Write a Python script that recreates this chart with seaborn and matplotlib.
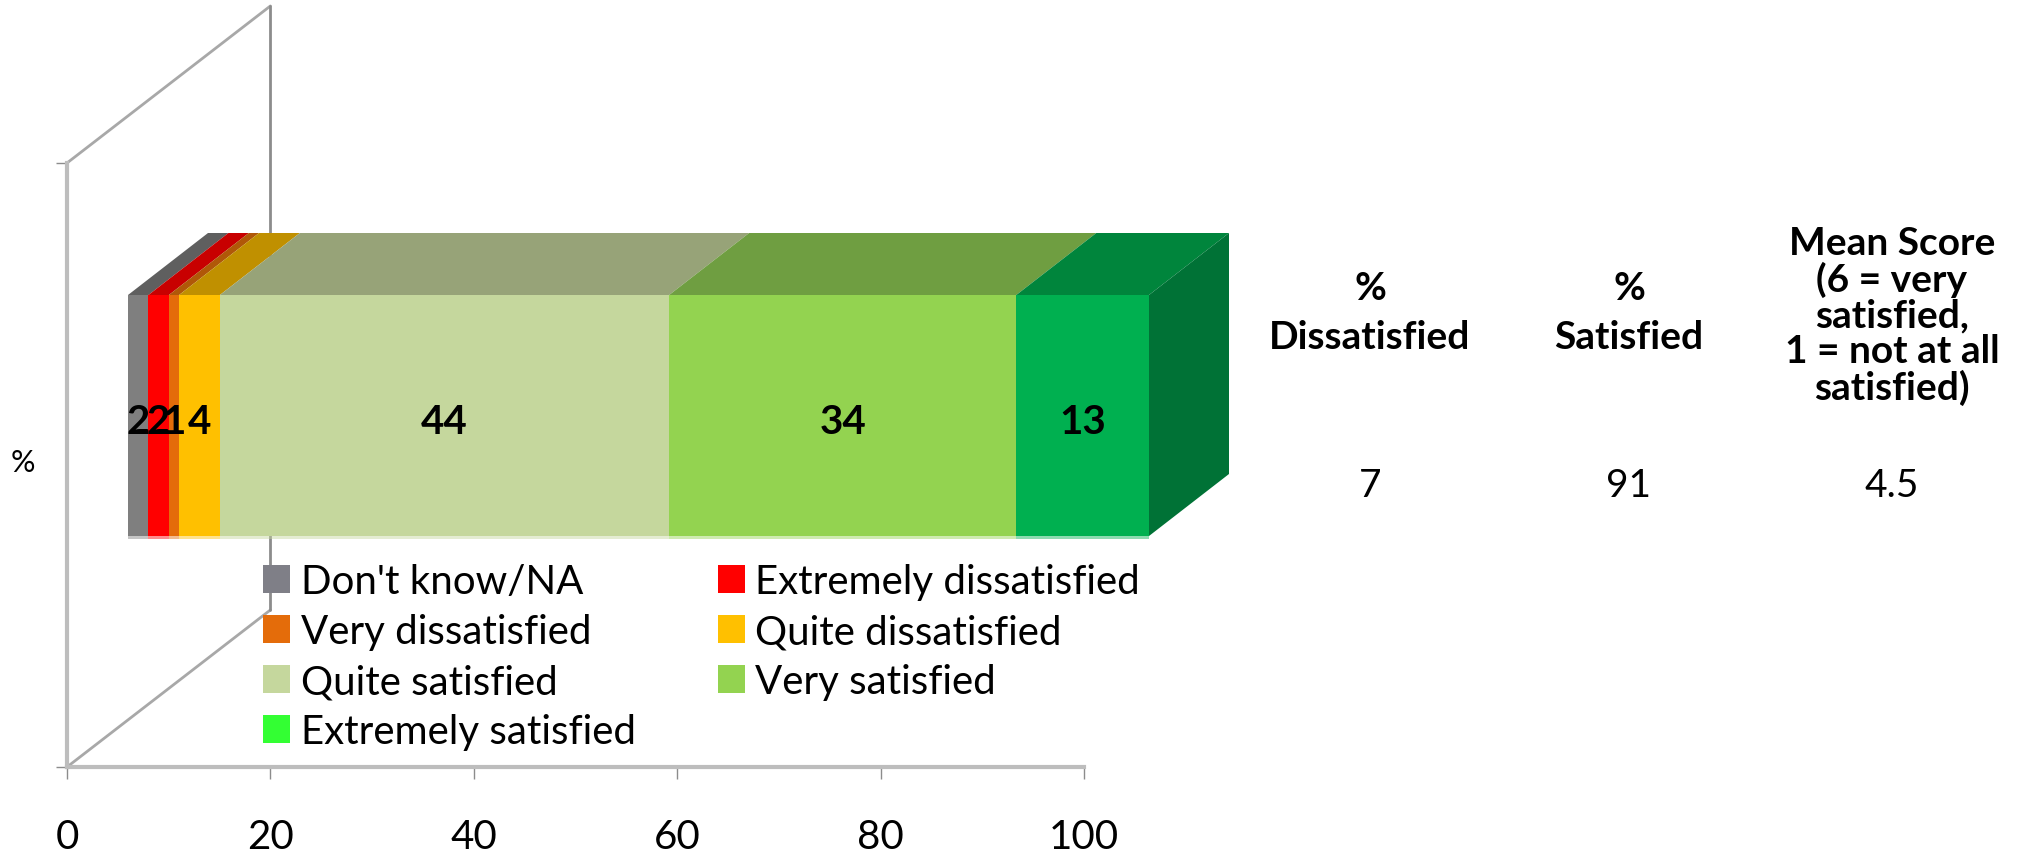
import matplotlib
matplotlib.use("Agg")
import matplotlib.pyplot as plt
from matplotlib.patches import Rectangle
import pandas as pd
import seaborn as sns

categories = ["Don't know/NA", "Extremely dissatisfied", "Very dissatisfied", "Quite dissatisfied",
              "Quite satisfied", "Very satisfied", "Extremely satisfied"]
values = [2, 2, 1, 4, 44, 34, 13]
front_colors = ["#7F7F7F", "#FF0000", "#E46C0A", "#FFC000", "#C5D79D", "#93D350", "#00B050"]
top_colors = ["#5F5F5F", "#C80000", "#B05808", "#C09000", "#97A378", "#6F9E41", "#00853C"]
legend_colors = ["#7F7F87", "#FF0000", "#E46C0A", "#FFC000", "#C5D79D", "#93D350", "#33FF33"]
side_color = "#007236"
axis_ticks = [0, 20, 40, 60, 80, 100]
table_headers = ["%\nDissatisfied", "%\nSatisfied"]
table_wide_header = "Mean Score\n(6 = very\nsatisfied,\n1 = not at all\nsatisfied)"
table_values = ["7", "91", "4.5"]

W, H = 2025, 854
sns.set_theme(style="white")
plt.rcParams["font.family"] = ["Lato", "DejaVu Sans"]
fig = plt.figure(figsize=(W / 100, H / 100), dpi=100, facecolor="white")


def box(x0, y_top, x1, y_bottom):
    return [x0 / W, 1 - y_bottom / H, (x1 - x0) / W, (y_bottom - y_top) / H]


def fx(x):
    return x / W


def fy(y):
    return 1 - y / H


# Axis frame with the receding wall
ax = fig.add_axes(box(67, 164, 1084, 768))
ax.set_xlim(0, 100)
ax.set_ylim(0, 1)
ax.patch.set_visible(False)
for name in ("top", "right"):
    ax.spines[name].set_visible(False)
for name in ("left", "bottom"):
    ax.spines[name].set_color("#BDBDBD")
    ax.spines[name].set_linewidth(3)
ax.set_xticks(axis_ticks)
ax.set_yticks([0, 1])
ax.set_yticklabels([])
ax.tick_params(axis="x", length=8.5, width=1, color="#8C8C8C", labelsize=29, labelcolor="black",
               pad=28, bottom=True)
ax.tick_params(axis="y", length=8, width=1, color="#8C8C8C", left=True)
wall_dx, wall_dy = 20, 0.26
ax.plot([0, wall_dx], [1, 1 + wall_dy], color="#A8A8A8", lw=2, clip_on=False)
ax.plot([0, wall_dx], [0, wall_dy], color="#A8A8A8", lw=2, clip_on=False)
ax.plot([wall_dx, wall_dx], [wall_dy, 1 + wall_dy], color="#8C8C8C", lw=2, clip_on=False)

# Stacked bar: cumulative totals painted from longest to shortest
bar_ax = fig.add_axes(box(128, 296, 1149, 537))
bar_ax.patch.set_visible(False)
cumulative = pd.Series(values).cumsum().tolist()
starts = [0] + cumulative[:-1]
frame = pd.DataFrame({"category": categories, "total": cumulative, "row": "%"})
for i in reversed(range(len(categories))):
    sns.barplot(data=frame.iloc[[i]], x="total", y="row", color=front_colors[i], saturation=1,
                width=1, orient="h", linewidth=0, ax=bar_ax)
bar_ax.set_xlim(0, cumulative[-1])
bar_ax.set_ylim(-0.5, 0.5)
bar_ax.invert_yaxis()
bar_ax.axis("off")

# Extruded faces of the bar
depth_x = 80 / (1021 / 100)
depth_y = 62 / 241
rim = 2.5 / 241
for left, right, top_c, front_c in zip(starts, cumulative, top_colors, front_colors):
    bar_ax.fill([left, right, right + depth_x, left + depth_x],
                [-0.5, -0.5, -0.5 - depth_y, -0.5 - depth_y],
                color=top_c, lw=0, clip_on=False, zorder=3)
    bar_ax.fill([left, right, right, left], [0.5, 0.5, 0.5 + rim, 0.5 + rim],
                color=front_c, alpha=0.45, lw=0, clip_on=False, zorder=3)
end = cumulative[-1]
bar_ax.fill([end, end + depth_x, end + depth_x, end],
            [-0.5, -0.5 - depth_y, 0.5 - depth_y, 0.5],
            color=side_color, lw=0, clip_on=False, zorder=3)

# Segment values
for left, value in zip(starts, values):
    bar_ax.text(left + value / 2, 0.5 - (537 - 422) / 241, str(value), ha="center", va="center",
                fontsize=29, fontweight="bold", color="black", zorder=5)

fig.text(fx(23), fy(463), "%", ha="center", va="center", fontsize=22, color="black")

# Legend, filled column by column so that it reads across in rows
handles = [Rectangle((0, 0), 1, 1, facecolor=c, edgecolor="none") for c in legend_colors]
order = [0, 2, 4, 6, 1, 3, 5]
fig.legend([handles[i] for i in order], [categories[i] for i in order],
           ncols=2, loc="upper left", bbox_to_anchor=(fx(263), fy(564)), frameon=False,
           fontsize=29, borderpad=0, borderaxespad=0, handlelength=0.67, handleheight=0.7,
           handletextpad=0.27, labelspacing=0.325, columnspacing=2.03, labelcolor="black")

# Summary columns beside the bar
header_x = [1370, 1629]
for x, label in zip(header_x, table_headers):
    fig.text(fx(x), fy(313), label, ha="center", va="center", fontsize=28, fontweight="bold",
             color="black", linespacing=1.5)
fig.text(fx(1892), fy(316), table_wide_header, ha="center", va="center", fontsize=28,
         fontweight="bold", color="black", linespacing=1.03)
for x, label in zip(header_x + [1892], table_values):
    fig.text(fx(x), fy(486), label, ha="center", va="center", fontsize=28, color="black")

fig.savefig("out.png", dpi=100, facecolor="white")
